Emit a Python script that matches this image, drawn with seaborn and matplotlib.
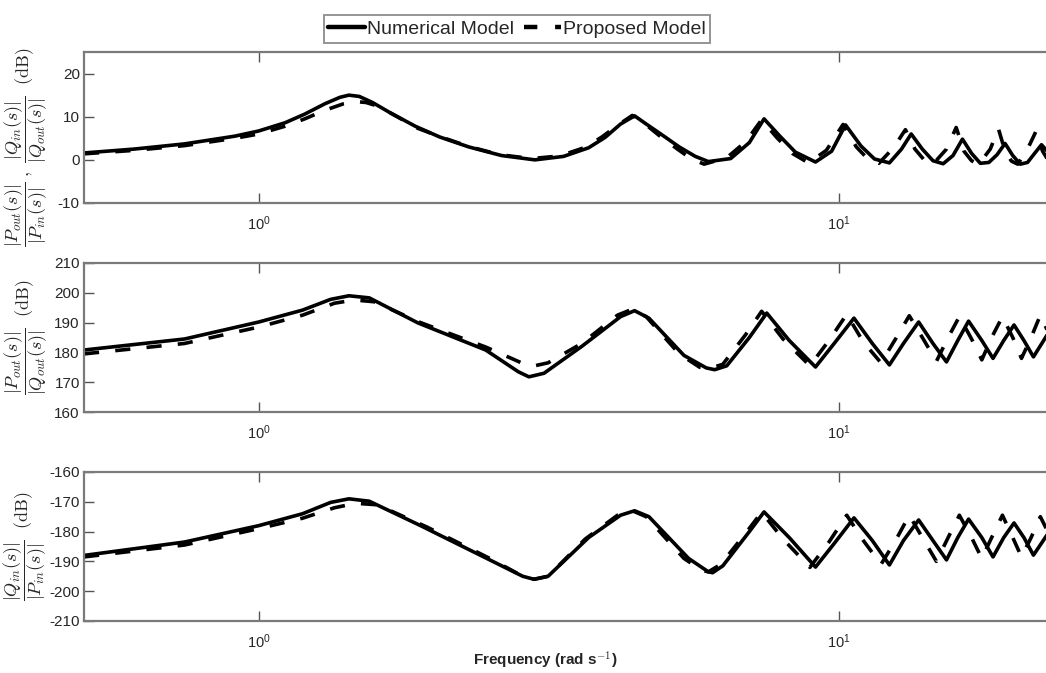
import numpy as np
import pandas as pd
import seaborn as sns
import matplotlib
matplotlib.use("Agg")
import matplotlib.pyplot as plt
from matplotlib.ticker import NullLocator, FixedLocator
from matplotlib.lines import Line2D

# ---------------- data ----------------
# Panel 1 : |Pout/Pin| , |Qin/Qout| (dB)
p1_num_f = [0.5, 0.61, 0.745, 0.91, 1.0, 1.11, 1.2, 1.3, 1.38, 1.43, 1.49, 1.57, 1.68, 1.86,
            2.05, 2.3, 2.62, 2.99, 3.35, 3.7, 3.95, 4.2, 4.44, 4.65, 4.95, 5.3, 5.65, 5.95,
            6.5, 7.0, 7.42, 7.9, 8.4, 9.1, 9.7, 10.25,
            10.9, 11.5, 12.2, 12.8, 13.3, 13.9, 14.5, 15.1, 15.7, 16.3, 16.9, 17.5, 18.1, 18.7,
            19.3, 19.9, 20.5, 21.1, 21.7, 22.3, 23.0]
p1_num_v = [1.6, 2.5, 3.7, 5.5, 6.7, 8.6, 10.6, 13.0, 14.5, 15.0, 14.7, 13.3, 11.0, 7.8,
            5.3, 3.0, 1.0, 0.0, 0.8, 2.8, 5.2, 8.3, 10.2, 8.3, 5.8, 3.0, 0.8, -0.4,
            0.3, 4.0, 9.5, 5.5, 1.8, -0.5, 2.0, 8.1,
            3.2, 0.2, -0.7, 2.5, 6.0, 2.5, -0.2, -0.9, 1.0, 4.8, 1.5, -0.8, -0.6, 1.2,
            3.8, 1.0, -1.0, -0.6, 1.5, 3.5, 1.5]
p1_pro_f = [0.5, 0.61, 0.745, 0.91, 1.0, 1.11, 1.2, 1.3, 1.4, 1.47, 1.53, 1.6, 1.7, 1.88,
            2.05, 2.3, 2.6, 2.95, 3.3, 3.65, 3.9, 4.15, 4.4, 4.6, 4.9, 5.25, 5.55, 5.85,
            6.4, 6.9, 7.35, 7.8, 8.3, 8.85, 9.5,
            10.15, 10.7, 11.2, 11.7, 12.4, 13.0, 13.5, 14.0, 14.5, 15.3, 15.9, 16.4, 16.9, 17.4,
            18.2, 18.8, 19.3, 19.8, 20.3, 21.1, 21.8, 22.4, 23.0]
p1_pro_v = [1.4, 2.2, 3.3, 5.0, 6.0, 7.8, 9.5, 11.5, 13.0, 13.5, 13.3, 12.5, 10.6, 7.3,
            5.4, 3.1, 1.2, 0.3, 0.9, 2.9, 5.3, 8.0, 10.3, 8.6, 5.6, 2.6, 0.3, -1.0,
            0.5, 4.2, 9.3, 5.2, 1.5, -0.7, 2.2,
            8.2, 3.0, 0.2, -0.8, 2.8, 7.0, 2.5, 0.0, -1.0, 2.5, 7.5, 2.0, -0.2, -1.0,
            2.5, 7.2, 2.0, -0.3, -1.0, 2.5, 6.5, 2.0, -0.5]

# Panel 2 : |Pout/Qout| (dB)
p2_num_f = [0.5, 0.745, 1.0, 1.19, 1.33, 1.43, 1.55, 1.88, 2.46, 2.8, 2.92, 3.1, 3.6, 4.2, 4.44,
            4.7, 5.4, 5.9, 6.1, 6.4, 7.0, 7.5, 8.2, 9.1, 9.8, 10.6, 11.4, 12.2, 12.9, 13.7,
            14.5, 15.3, 16.0, 16.7, 17.6, 18.4, 19.2, 20.0, 20.8, 21.6, 23.0]
p2_num_v = [180.8, 184.5, 190.2, 194.2, 197.8, 199.0, 198.3, 189.9, 180.8, 173.5, 171.8, 173.0,
            182.0, 192.0, 194.0, 191.5, 179.0, 174.8, 174.2, 175.5, 185.0, 193.2, 184.0, 175.1,
            183.0, 191.5, 183.0, 175.8, 183.0, 190.2, 183.0, 176.8, 184.0, 190.5, 184.0, 178.0,
            184.0, 189.2, 184.0, 178.5, 187.0]
p2_pro_f = [0.5, 0.745, 1.0, 1.19, 1.35, 1.46, 1.58, 1.9, 2.46, 2.85, 2.97, 3.15, 3.6, 4.15, 4.4,
            4.65, 5.3, 5.75, 5.95, 6.3, 6.9, 7.35, 8.0, 8.9, 9.6, 10.3, 11.0, 11.8, 12.5, 13.2,
            14.0, 14.7, 15.4, 16.1, 16.9, 17.6, 18.3, 19.1, 19.9, 20.6, 21.4, 22.2, 23.0]
p2_pro_v = [179.5, 183.0, 188.5, 192.5, 196.5, 197.6, 197.0, 190.0, 181.8, 176.3, 175.4, 176.5,
            183.0, 192.5, 194.5, 192.0, 179.5, 175.0, 174.5, 176.0, 186.0, 193.8, 184.5, 175.5,
            184.0, 192.8, 183.5, 176.5, 184.5, 192.3, 184.0, 177.0, 185.0, 192.0, 184.5, 177.5,
            185.0, 192.0, 185.0, 178.0, 185.0, 192.5, 186.0]

# Panel 3 : |Qin/Pin| (dB)
p3_num_f = [0.5, 0.745, 1.0, 1.19, 1.33, 1.43, 1.55, 1.9, 2.5, 2.85, 2.98, 3.15, 3.7, 4.2, 4.44,
            4.7, 5.5, 5.95, 6.05, 6.3, 7.0, 7.42, 8.2, 9.1, 9.8, 10.6, 11.4, 12.2, 12.9, 13.7,
            14.5, 15.3, 16.0, 16.7, 17.6, 18.4, 19.2, 20.0, 20.8, 21.6, 23.0]
p3_num_v = [-188.0, -183.5, -178.0, -174.0, -170.2, -169.0, -169.8, -178.0, -189.5, -195.0,
            -196.0, -195.0, -182.0, -174.5, -173.0, -175.0, -189.0, -193.5, -193.8, -191.5,
            -180.0, -173.4, -182.0, -191.9, -184.0, -175.4, -183.0, -191.2, -183.0, -176.1,
            -183.0, -189.5, -182.0, -175.8, -182.0, -188.5, -182.0, -177.1, -182.0, -187.9, -180.0]
p3_pro_f = [0.5, 0.745, 1.0, 1.19, 1.35, 1.47, 1.6, 1.95, 2.5, 2.85, 2.98, 3.15, 3.65, 4.15, 4.4,
            4.65, 5.4, 5.8, 5.95, 6.25, 6.9, 7.35, 8.0, 8.9, 9.6, 10.3, 11.0, 11.8, 12.5, 13.2,
            14.0, 14.7, 15.4, 16.1, 16.9, 17.6, 18.3, 19.1, 19.9, 20.6, 21.4, 22.2, 23.0]
p3_pro_v = [-188.5, -184.5, -179.0, -175.5, -172.0, -170.5, -171.0, -178.5, -189.0, -195.0,
            -196.0, -195.0, -182.5, -174.5, -173.0, -175.0, -189.0, -193.0, -193.5, -191.0,
            -180.5, -173.5, -182.5, -192.0, -183.5, -174.5, -183.0, -191.0, -183.0, -174.5,
            -183.0, -190.0, -182.0, -174.5, -182.0, -189.0, -182.0, -174.5, -182.0, -188.5,
            -182.0, -175.0, -181.0]

series_names = ["Numerical Model", "Proposed Model"]
y_limits = [(-10, 25), (160, 210), (-210, -160)]
y_ticks = [[-10, 0, 10, 20], [160, 170, 180, 190, 200, 210], [-210, -200, -190, -180, -170, -160]]
x_ticks = [1, 10]
y_labels = [
    r"$\dfrac{|P_{out}(s)|}{|P_{in}(s)|}\ ,\ \dfrac{|Q_{in}(s)|}{|Q_{out}(s)|}\ \ \mathrm{(dB)}$",
    r"$\dfrac{|P_{out}(s)|}{|Q_{out}(s)|}\ \ \mathrm{(dB)}$",
    r"$\dfrac{|Q_{in}(s)|}{|P_{in}(s)|}\ \ \mathrm{(dB)}$",
]
x_label = r"Frequency (rad s$^{\mathbf{-1}}$)"

# ---------------- styling ----------------
sns.set_style("white")
plt.rcParams["font.family"] = ["Liberation Sans Narrow", "Liberation Sans", "DejaVu Sans"]
plt.rcParams["mathtext.fontset"] = "cm"

fig = plt.figure(figsize=(10.46, 6.73), dpi=100)
W, H = 1046.0, 673.0
panels_px = [(52, 203), (263, 412), (472, 621)]
left_px = 84
spine_col = "#7a7a7a"
dash_style = (0, (4.2, 4.5))

data = [
    (p1_num_f, p1_num_v, p1_pro_f, p1_pro_v),
    (p2_num_f, p2_num_v, p2_pro_f, p2_pro_v),
    (p3_num_f, p3_num_v, p3_pro_f, p3_pro_v),
]
label_x = [26, 26, 25]
label_dy = [2, 0, 0]

axes = []
for i, (top, bot) in enumerate(panels_px):
    ax = fig.add_axes([left_px / W, (H - bot) / H, (1060 - left_px) / W, (bot - top) / H])
    axes.append(ax)
    nf_, nv_, pf_, pv_ = data[i]
    df = pd.concat([
        pd.DataFrame({"f": nf_, "v": nv_, "model": series_names[0]}),
        pd.DataFrame({"f": pf_, "v": pv_, "model": series_names[1]}),
    ])
    sns.lineplot(data=df[df.model == series_names[0]], x="f", y="v", ax=ax, color="black",
                 lw=2.6, sort=False, estimator=None, legend=False)
    sns.lineplot(data=df[df.model == series_names[1]], x="f", y="v", ax=ax, color="black",
                 lw=2.6, sort=False, estimator=None, legend=False, linestyle=dash_style)
    ax.set_xscale("log")
    ax.set_xlim(0.5, 24.0)
    ax.set_ylim(*y_limits[i])
    ax.xaxis.set_major_locator(FixedLocator(x_ticks))
    ax.xaxis.set_minor_locator(NullLocator())
    ax.set_yticks(y_ticks[i])
    ax.set_yticklabels([str(t) for t in y_ticks[i]], fontsize=11)
    ax.tick_params(axis="x", which="major", direction="in", length=7, width=1.0,
                   color="#555555", top=True, bottom=True, labelsize=10.5, pad=8)
    ax.tick_params(axis="y", which="major", direction="in", length=7, width=1.0,
                   color="#555555", left=True, labelsize=11, pad=3)
    for s in ["top", "bottom", "left"]:
        ax.spines[s].set_color(spine_col)
        ax.spines[s].set_linewidth(1.6)
    ax.spines["right"].set_visible(False)
    ax.set_xlabel("")
    ax.set_ylabel("")
    ax.grid(False)
    fig.text(label_x[i] / W, 1 - ((top + bot) / 2 + label_dy[i] * 10) / H, y_labels[i],
             rotation=90, ha="center", va="center", fontsize=13)

fig.text(545 / W, 1 - 660 / H, x_label, ha="center", va="center", fontsize=11,
         fontweight="bold")

handles = [Line2D([], [], color="black", lw=3.2),
           Line2D([], [], color="black", lw=3.2, linestyle=(0, (3.0, 4.0)))]
leg = fig.legend(handles, series_names, loc="center", bbox_to_anchor=(517 / W, 1 - 29 / H),
                 ncol=2, frameon=True, fancybox=False, fontsize=14, handlelength=1.9,
                 handletextpad=0.1, columnspacing=0.5, borderpad=0.25,
                 edgecolor=spine_col)
leg.get_frame().set_linewidth(1.4)

fig.savefig("out.png", dpi=100, facecolor="white")
